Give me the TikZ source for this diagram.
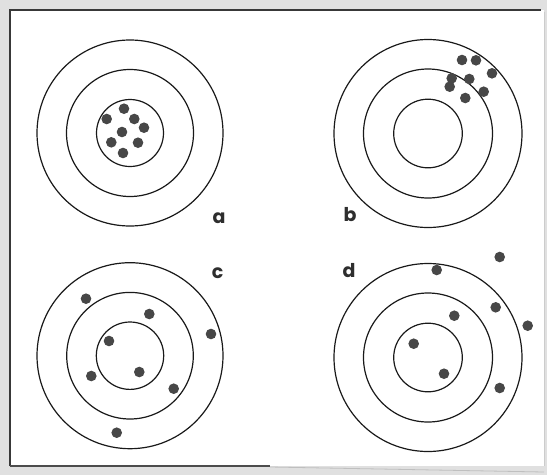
\documentclass[tikz,border=0pt]{standalone}
\usepackage{fontspec}
\newfontfamily\lblfont{Poppins}[UprightFont=* Bold,BoldFont=* Bold]
\begin{document}
\begin{tikzpicture}[x=1pt,y=-1pt,
  ring/.style={draw=black!90,line width=1.2pt},
  shot/.style={fill=black!72},
  lbl/.style={font=\lblfont\fontsize{19}{19}\selectfont,text=black!82,anchor=base,inner sep=0pt},
  frameline/.style={draw=black!78,line width=2pt}]
\useasboundingbox (0,0) rectangle (547,475);
\fill[black!12] (0,0) rectangle (547,475);
\fill[white] (10,10) rectangle (544,466);
% frame
\draw[frameline] (10,466) -- (10,10) -- (541,10);
\draw[black!70,line width=1.6pt] (10,466) -- (270,466);
\draw[black!25,line width=0.8pt] (270,467) -- (544,472);
\draw[black!20,line width=0.8pt] (544,12) -- (544,466);
% target a
\foreach \r in {93,63.5,33.5} \draw[ring] (130,133) circle (\r);
\foreach \p in {(124,108.7),(106.7,119),(134.3,119),(144,127.7),(122,132),(111.3,142.3),(138,142.7),(123,153)}
  \fill[shot] \p circle (5.3);
% target b
\foreach \r in {94,64.5,34.3} \draw[ring] (428,133.5) circle (\r);
\foreach \p in {(462,60),(476,60.3),(492,73.3),(451.7,78.3),(469.3,79),(449.7,86.7),(483.7,91.7),(465.3,98)}
  \fill[shot] \p circle (5.3);
% target c
\foreach \r in {93,63.3,33.7} \draw[ring] (130,355.7) circle (\r);
\foreach \p in {(86,298.7),(149.3,314),(211,334),(109,341),(91.3,376),(139.3,372),(173.7,388.7),(116.7,432.7)}
  \fill[shot] \p circle (5.3);
% target d
\foreach \r in {94,64.5,34.3} \draw[ring] (428,357.5) circle (\r);
\foreach \p in {(436.7,270),(499.7,257),(495.7,307.3),(454.3,315.7),(527.7,325.7),(413.7,343.7),(444,373.7),(499.7,388)}
  \fill[shot] \p circle (5.3);
% labels
\node[lbl] (la) at (219,223) {a};
\node[lbl] (lb) at (350,221.5) {b};
\node[lbl] (lc) at (217.5,278) {c};
\node[lbl] (ld) at (349,277.5) {d};
\end{tikzpicture}
\end{document}
